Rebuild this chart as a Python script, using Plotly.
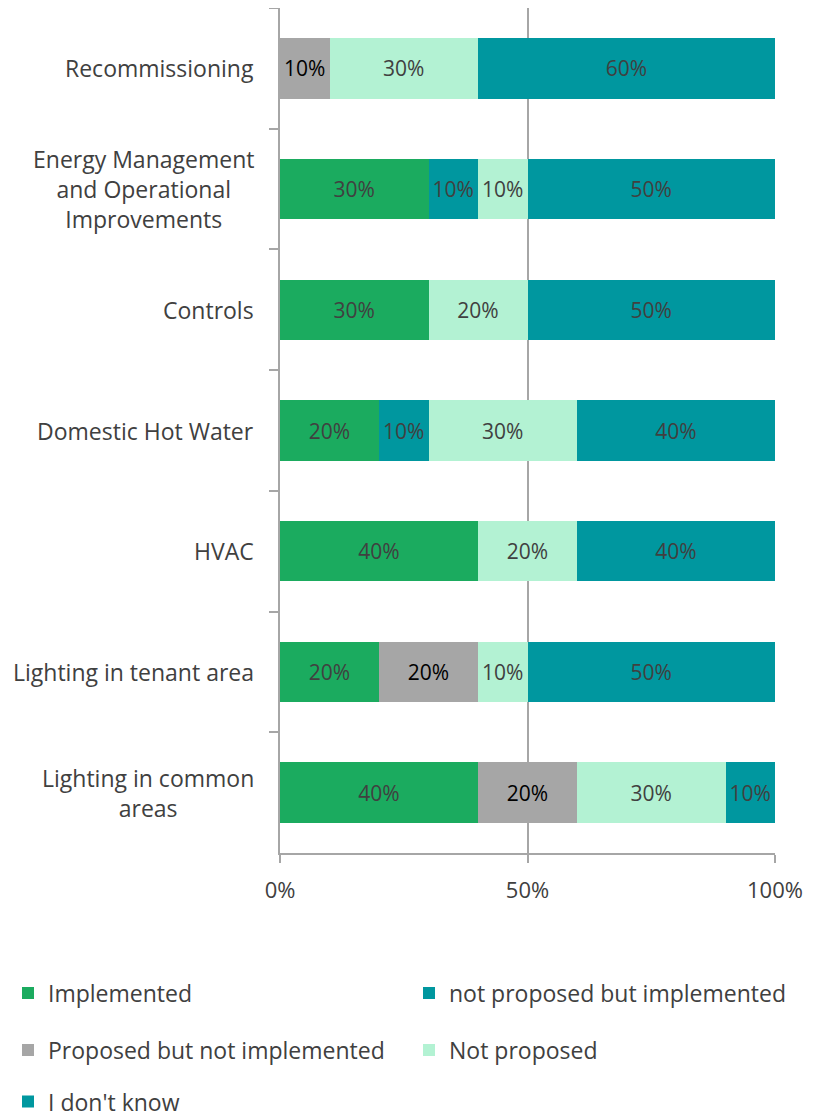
import plotly.graph_objects as go

categorias = [
    "Recommissioning",
    "Energy Management<br>and Operational<br>Improvements",
    "Controls",
    "Domestic Hot Water",
    "HVAC",
    "Lighting in tenant area",
    "Lighting in common<br>areas",
]

implemented = [0, 30, 30, 20, 40, 20, 40]
not_proposed_but_impl = [0, 10, 0, 10, 0, 0, 0]
proposed_not_impl = [10, 0, 0, 0, 0, 20, 20]
not_proposed = [30, 10, 20, 30, 20, 10, 30]
dont_know = [60, 50, 50, 40, 40, 50, 10]

series = [
    ("Implemented", implemented, "#1BAB5F", "#404040", "legend"),
    ("not proposed but implemented", not_proposed_but_impl, "#00979F", "#404040", "legend2"),
    ("Proposed but not implemented", proposed_not_impl, "#A6A6A6", "#000000", "legend3"),
    ("Not proposed", not_proposed, "#B3F2D3", "#404040", "legend4"),
    ("I don't know", dont_know, "#00979F", "#404040", "legend5"),
]

FONTE = "Open Sans"

fig = go.Figure()
for nome, valores, cor, cor_texto, leg in series:
    fig.add_trace(go.Bar(
        y=categorias,
        x=valores,
        name=nome,
        orientation="h",
        marker=dict(color=cor, line=dict(width=0)),
        text=[f"{v}%" if v else "" for v in valores],
        textposition="inside",
        insidetextanchor="middle",
        textfont=dict(color=cor_texto, size=21, family=FONTE),
        constraintext="none",
        width=0.5,
        legend=leg,
        showlegend=True,
    ))

# rótulos das categorias centralizados (como no original)
for c in categorias:
    fig.add_annotation(
        x=0, xref="paper", y=c, yref="y",
        text=c, showarrow=False, xanchor="right", align="center",
        xshift=-24, font=dict(size=23, color="#404040", family=FONTE),
    )

def leg_pos(x, y):
    return dict(x=x, y=y, xref="container", yref="container",
                xanchor="left", yanchor="middle", orientation="h",
                bgcolor="rgba(0,0,0,0)", font=dict(size=23, color="#404040", family=FONTE))

col1, col2 = 0.0, 0.4963
fig.update_layout(
    width=808, height=1112,
    barmode="stack",
    template="simple_white",
    showlegend=True,
    plot_bgcolor="white",
    paper_bgcolor="white",
    font=dict(family=FONTE, size=20, color="#404040"),
    margin=dict(l=272, r=41, t=0, b=267),
    bargap=0.5,
    legend=leg_pos(col1, 0.1142),
    legend2=leg_pos(col2, 0.1142),
    legend3=leg_pos(col1, 0.0629),
    legend4=leg_pos(col2, 0.0629),
    legend5=leg_pos(col1, 0.0165),
    xaxis=dict(
        range=[0, 100], tickvals=[0, 50, 100], ticktext=["0%", "50%", "100%"],
        showgrid=True, gridcolor="#A6A6A6", gridwidth=1.5,
        showline=True, linecolor="#A6A6A6", linewidth=1.5,
        ticks="outside", ticklen=8, tickcolor="#A6A6A6", tickwidth=1.5,
        ticklabelstandoff=9,
        tickfont=dict(size=22, color="#404040"), zeroline=False,
    ),
    yaxis=dict(
        categoryorder="array", categoryarray=categorias, autorange="reversed",
        showticklabels=False, tickson="boundaries",
        showline=True, linecolor="#A6A6A6", linewidth=1.5,
        ticks="outside", ticklen=9, tickcolor="#A6A6A6", tickwidth=1.5,
        showgrid=False,
    ),
)

fig.write_html("out.html")
